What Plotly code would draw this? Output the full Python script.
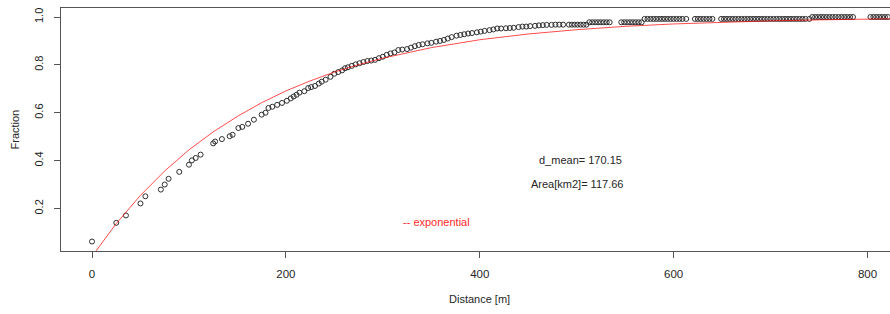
import plotly.graph_objects as go

# ---- data ----
distance = [
    0, 25, 35, 50, 55, 71, 75, 79, 90, 100, 103, 107, 112, 125, 127, 134, 142, 145,
    151, 155, 161, 167, 175, 179, 182, 186, 191, 196,
    201, 205, 208, 211, 214, 219, 223, 226, 230, 234, 237, 241, 246, 250, 254, 258,
    261, 264, 268, 272, 276, 280, 284, 288, 292,
    296, 300, 304, 308, 312, 316, 320, 325, 329, 333, 337, 341, 346, 350, 355, 359,
    363, 367, 371, 376, 380, 384, 388, 392, 397, 401, 405, 410, 414, 418, 422, 427,
    431, 435, 440, 444, 448, 452, 457, 461, 465, 469, 474, 478, 482,
    486, 492, 495, 498, 501, 504, 507, 510,
    513, 516, 519, 522, 525, 528, 531, 534, 546, 549, 552, 555, 558, 561, 564, 567,
    570, 573, 576, 579, 582, 585, 588, 591, 594, 597, 600, 603, 606, 609, 613, 622,
    625, 628, 631, 634, 637, 640, 649, 652, 655, 658, 661, 664, 667, 670, 673, 676,
    679, 682, 685, 688, 691, 694, 697, 700, 703, 706, 709, 712, 715, 718, 721, 724,
    727, 730, 733, 736, 740,
    743, 746, 749, 752, 755, 758, 761, 764, 767, 770, 773, 776, 779, 782, 785,
    803, 806, 809, 812, 815, 818, 821,
]
fraction = [
    0.062, 0.140, 0.171, 0.221, 0.251, 0.279, 0.300, 0.324, 0.353, 0.383, 0.401, 0.411,
    0.425, 0.472, 0.480, 0.490, 0.502, 0.508, 0.536, 0.541, 0.554, 0.571, 0.592, 0.600,
    0.620, 0.625, 0.633, 0.641,
    0.650, 0.660, 0.668, 0.675, 0.684, 0.690, 0.703, 0.707, 0.712, 0.722, 0.730, 0.738,
    0.750, 0.763, 0.770, 0.777, 0.786, 0.790, 0.796, 0.802, 0.807, 0.812, 0.816, 0.818,
    0.821,
    0.828, 0.834, 0.842, 0.848, 0.852, 0.862, 0.864, 0.866, 0.872, 0.878, 0.883, 0.886,
    0.890, 0.892, 0.897, 0.900, 0.904, 0.910, 0.916, 0.922, 0.925, 0.928, 0.931, 0.933,
    0.936, 0.939, 0.942, 0.945, 0.948, 0.952, 0.952, 0.953, 0.954, 0.955, 0.958, 0.960,
    0.960, 0.962, 0.963, 0.965, 0.966, 0.967, 0.967, 0.968, 0.968,
    0.968, 0.968, 0.968, 0.968, 0.968, 0.968, 0.968, 0.968,
    0.978, 0.978, 0.978, 0.978, 0.978, 0.978, 0.978, 0.978, 0.978, 0.978, 0.978, 0.978,
    0.978, 0.978, 0.978, 0.978,
    0.992, 0.992, 0.992, 0.992, 0.992, 0.992, 0.992, 0.992, 0.992, 0.992, 0.992, 0.992,
    0.992, 0.992, 0.992, 0.992, 0.992, 0.992, 0.992, 0.992, 0.992, 0.992, 0.992, 0.992,
    0.992, 0.992, 0.992, 0.992, 0.992, 0.992, 0.992, 0.992, 0.992, 0.992, 0.992, 0.992,
    0.992, 0.992, 0.992, 0.992, 0.992, 0.992, 0.992, 0.992, 0.992, 0.992, 0.992, 0.992,
    0.992, 0.992, 0.992, 0.992, 0.992,
    1.0, 1.0, 1.0, 1.0, 1.0, 1.0, 1.0, 1.0, 1.0, 1.0, 1.0, 1.0, 1.0, 1.0, 1.0,
    1.0, 1.0, 1.0, 1.0, 1.0, 1.0, 1.0,
]

# red "exponential" curve
curve_distance = [0, 25, 50, 75, 100, 125, 150, 175, 200, 225, 250, 275, 300, 350,
                  400, 450, 500, 550, 600, 650, 700, 750, 800, 830]
curve_fraction = [0.0, 0.137, 0.255, 0.357, 0.445, 0.520, 0.585, 0.642, 0.691, 0.733,
                  0.770, 0.801, 0.828, 0.872, 0.905, 0.929, 0.947, 0.961, 0.971, 0.978,
                  0.984, 0.988, 0.991, 0.993]

x_ticks = [0, 200, 400, 600, 800]
y_ticks = [0.2, 0.4, 0.6, 0.8, 1.0]
y_tick_labels = ["0.2", "0.4", "0.6", "0.8", "1.0"]

FONT = "Liberation Sans, Arial, Helvetica, sans-serif"
AX = "#555555"
TXT = "#262626"

W, H = 890, 314
ML, MR, MT, MB = 61, 0, 8, 63
PW, PH = W - ML - MR, H - MT - MB

fig = go.Figure()
fig.add_trace(go.Scatter(
    x=distance, y=fraction, mode="markers",
    marker=dict(symbol="circle-open", size=5, color="#2e2e2e", line=dict(width=1)),
    showlegend=False, hoverinfo="skip",
))
fig.add_trace(go.Scatter(
    x=curve_distance, y=curve_fraction, mode="lines",
    line=dict(color="rgba(255,0,0,0.7)", width=1),
    showlegend=False, hoverinfo="skip",
))

fig.add_annotation(x=504, y=0.401, text="d_mean= 170.15", showarrow=False,
                   xanchor="center", yanchor="middle",
                   font=dict(family=FONT, size=11, color=TXT))
fig.add_annotation(x=500, y=0.303, text="Area[km2]= 117.66", showarrow=False,
                   xanchor="center", yanchor="middle",
                   font=dict(family=FONT, size=11, color=TXT))
fig.add_annotation(x=355, y=0.143, text="-- exponential", showarrow=False,
                   xanchor="center", yanchor="middle",
                   font=dict(family=FONT, size=11, color="#ff2a2a"))

# axis titles placed like R's mtext lines
fig.add_annotation(xref="paper", yref="paper", x=(14 - ML) / PW, y=0.5,
                   text="Fraction", textangle=-90, showarrow=False,
                   xanchor="center", yanchor="middle",
                   font=dict(family=FONT, size=11, color=TXT))
fig.add_annotation(xref="x", yref="paper", x=400, y=-(299 - (H - MB)) / PH,
                   text="Distance [m]", showarrow=False,
                   xanchor="center", yanchor="middle",
                   font=dict(family=FONT, size=11, color=TXT))

fig.update_layout(
    width=W, height=H,
    margin=dict(l=ML, r=MR, t=MT, b=MB, pad=0),
    paper_bgcolor="white", plot_bgcolor="white",
    font=dict(family=FONT, size=11, color=TXT),
    xaxis=dict(
        range=[-32, 823.2], tickmode="array", tickvals=x_ticks,
        ticks="outside", ticklen=6, tickcolor=AX, tickwidth=1,
        showline=True, linecolor=AX, linewidth=1.3, mirror=True,
        showgrid=False, zeroline=False, automargin=False,
        tickfont=dict(family=FONT, size=11.5, color=TXT),
        ticklabelstandoff=6,
    ),
    yaxis=dict(
        range=[0.0224, 1.0376], tickmode="array", tickvals=y_ticks,
        ticktext=y_tick_labels, tickangle=-90,
        ticks="outside", ticklen=6, tickcolor=AX, tickwidth=1,
        showline=True, linecolor=AX, linewidth=1.3, mirror=False,
        showgrid=False, zeroline=False, automargin=False,
        tickfont=dict(family=FONT, size=11, color=TXT),
        ticklabelstandoff=6,
    ),
)

fig.write_html(
    "out.html",
    config={"displayModeBar": False},
    post_script="document.body.style.margin='0';document.body.style.overflow='hidden';",
)
